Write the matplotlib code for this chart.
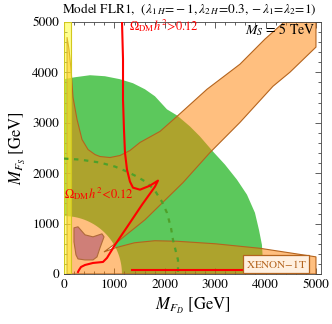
import numpy as np
import matplotlib
matplotlib.use("Agg")
import matplotlib.pyplot as plt
from matplotlib.patches import Polygon, Rectangle
from matplotlib.ticker import MultipleLocator

plt.rcParams['font.family'] = 'STIXGeneral'
plt.rcParams['mathtext.fontset'] = 'stix'

# green region (upper boundary, GeV) with a round hole at the origin
green_x = [0, 218, 516, 813, 1111, 1369, 1607, 1805, 2043, 2242, 2500, 2698, 2956,
           3194, 3432, 3631, 3789, 3869, 3928, 3948, 3948]
green_y = [3865, 3904, 3944, 3924, 3865, 3785, 3665, 3526, 3267, 3147, 2928, 2729, 2430,
           2171, 1872, 1574, 1215, 876, 578, 239, 0]
hole_r = 1150

# XENON-1T excluded region outline
xenon_x = [60, 99, 139, 179, 258, 357, 476, 615, 714, 913, 1111, 1309, 1508, 1905, 2242,
           2837, 3492, 3988, 4370, 5000, 5000, 4484, 4147, 3492, 2897, 2361, 1607, 1012,
           794, 1012, 1400, 1800, 2240, 3000, 3890, 5000, 5000, 60]
xenon_y = [4700, 4462, 4064, 3506, 3068, 2669, 2470, 2370, 2331, 2311, 2351, 2450, 2610,
           2829, 3127, 3665, 4163, 4661, 5000, 5000, 4502, 4004, 3725, 3008, 2410, 1813,
           1076, 598, 438, 518, 620, 660, 650, 600, 510, 340, 0, 0]

# small red blob near origin
blob_x = [198, 278, 417, 575, 754, 794, 714, 655, 575, 417, 278, 238, 198]
blob_y = [916, 936, 777, 737, 797, 737, 518, 339, 279, 279, 299, 378, 637]

# yellow strip at small M_FD
yellow_x = [0, 130]

# relic density contour (Omega h^2 = 0.12)
relic_x = [1151, 1171, 1171, 1190, 1210, 1250, 1309, 1369, 1508, 1706, 1865, 1805, 1548,
           1250, 1012, 853, 774, 575, 417, 337, 298, 278]
relic_y = [5000, 4263, 3466, 2868, 2410, 2072, 1833, 1713, 1673, 1753, 1853, 1733, 1374,
           930, 578, 319, 239, 219, 179, 139, 80, 40]
relic2_x = [1349, 3531]
relic2_y = [70, 70]

# green dashed contour
dash_x = [0, 317, 714, 1012, 1250, 1448, 1647, 1805, 1944, 2043, 2123, 2163, 2222, 2262, 2262]
dash_y = [2290, 2270, 2211, 2131, 2032, 1932, 1813, 1653, 1434, 1215, 916, 677, 438, 279, 0]

fig = plt.figure(figsize=(3.32, 3.24), dpi=100)
ax = fig.add_axes([64/332, 50/324, 257/332, 252/324])

# green region: upper boundary, then back along the arc of the hole
th = np.linspace(0, np.pi/2, 60)
gx = green_x + [hole_r] + list(hole_r*np.cos(th)) + [0]
gy = green_y + [0] + list(hole_r*np.sin(th)) + [green_y[0]]
ax.add_patch(Polygon(np.column_stack([gx, gy]), closed=True,
                     facecolor='#5cc85c', edgecolor='none', zorder=1))

ax.add_patch(Polygon(np.column_stack([xenon_x, xenon_y]), closed=True,
                     facecolor=(1.0, 0.5, 0.0, 0.5), edgecolor='#b4641e', lw=0.8, zorder=2))
ax.add_patch(Polygon(np.column_stack([blob_x, blob_y]), closed=True,
                     facecolor='#cf7f78', edgecolor='#b06a3a', lw=0.8, zorder=3))
ax.add_patch(Rectangle((yellow_x[0], 0), yellow_x[1]-yellow_x[0], 5000,
                       facecolor=(1.0, 1.0, 0.2, 0.55), edgecolor='#d2c81e', lw=0.8, zorder=4))

ax.plot(dash_x, dash_y, color='#4ea02a', lw=1.6, ls=(0, (2, 2.5)), zorder=5)
ax.plot(relic_x, relic_y, color='red', lw=1.5, zorder=6)
ax.plot(relic2_x, relic2_y, color='red', lw=1.5, zorder=6)

ax.text(1280, 4830, r'$\Omega_{\rm DM}h^2\!>\!0.12$', color='red', fontsize=9, zorder=7)
ax.text(0, 1500, r'$\Omega_{\rm DM}h^2\!<\!0.12$', color='red', fontsize=9, zorder=7)
ax.text(4980, 4760, r'$M_S$ = 5 TeV', ha='right', fontsize=10, zorder=7)
ax.text(4206, 199, 'XENON$-$1T', ha='center', va='center', fontsize=8, color='#b4641e', zorder=7,
        bbox=dict(boxstyle='square,pad=0.25', facecolor='#fff0e0', edgecolor='#b4641e', lw=0.9))

ax.set_xlim(0, 5100)
ax.set_ylim(0, 5000)
ax.xaxis.set_major_locator(MultipleLocator(1000))
ax.xaxis.set_minor_locator(MultipleLocator(200))
ax.yaxis.set_major_locator(MultipleLocator(1000))
ax.yaxis.set_minor_locator(MultipleLocator(200))
ax.tick_params(which='both', direction='in', top=True, right=True, width=0.6, color='#444444')
ax.tick_params(which='major', length=4, labelsize=9.5)
ax.tick_params(which='minor', length=2)
for s in ax.spines.values():
    s.set_linewidth(0.6)
    s.set_color('#444444')

ax.set_xlabel(r'$M_{F_D}$ [GeV]', fontsize=12, labelpad=4)
ax.set_ylabel(r'$M_{F_S}$ [GeV]', fontsize=12, labelpad=3)
fig.text(189/332, 1 - 9/324, r'Model FLR1,  $(\lambda_{1\,H}\!=\!-1, \lambda_{2\,H}\!=\!0.3, -\lambda_1\!=\!\lambda_2\!=\!1)$',
         ha='center', va='center', fontsize=9.5)

fig.savefig('out.png', dpi=100)
